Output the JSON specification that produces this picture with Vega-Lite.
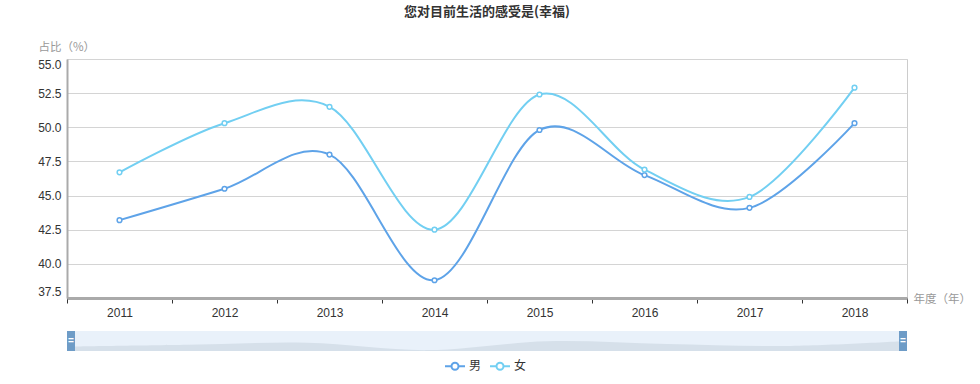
{
  "$schema": "https://vega.github.io/schema/vega-lite/v6.json",
  "padding": {"left": 37, "top": 5, "right": 5, "bottom": 5},
  "background": "white",
  "title": {"text": "您对目前生活的感受是(幸福)", "fontSize": 13, "fontWeight": "bold", "color": "#333", "anchor": "middle", "frame": "group", "font": "Noto Sans CJK SC", "offset": 22},
  "datasets": {
    "d": [
      {"year": 2011, "sex": "男", "value": 43.2},
      {"year": 2012, "sex": "男", "value": 45.5},
      {"year": 2013, "sex": "男", "value": 48.0},
      {"year": 2014, "sex": "男", "value": 38.8},
      {"year": 2015, "sex": "男", "value": 49.8},
      {"year": 2016, "sex": "男", "value": 46.5},
      {"year": 2017, "sex": "男", "value": 44.1},
      {"year": 2018, "sex": "男", "value": 50.3},
      {"year": 2011, "sex": "女", "value": 46.7},
      {"year": 2012, "sex": "女", "value": 50.3},
      {"year": 2013, "sex": "女", "value": 51.5},
      {"year": 2014, "sex": "女", "value": 42.5},
      {"year": 2015, "sex": "女", "value": 52.4},
      {"year": 2016, "sex": "女", "value": 46.9},
      {"year": 2017, "sex": "女", "value": 44.9},
      {"year": 2018, "sex": "女", "value": 52.9}
    ]
  },
  "data": {"name": "d"},
  "config": {
    "font": "Liberation Sans",
    "axis": {"labelFontSize": 12, "labelColor": "#333", "titleFont": "Noto Sans CJK SC", "titleFontSize": 11.5, "titleColor": "#999", "titleFontWeight": "normal"},
    "legend": {"labelFont": "Noto Sans CJK SC", "labelFontSize": 12, "labelColor": "#333"}
  },
  "spacing": 8,
  "vconcat": [
    {
      "width": 840,
      "height": 239,
      "view": {"stroke": "#cccccc"},
      "mark": {"type": "line", "interpolate": "cardinal", "strokeWidth": 2, "point": {"filled": false, "fill": "white", "size": 22, "strokeWidth": 1.5}},
      "encoding": {
        "x": {
          "field": "year", "type": "ordinal",
          "scale": {"type": "band", "paddingInner": 0, "paddingOuter": 0},
          "axis": {
            "title": "年度（年）", "titleX": 846, "titleY": 1, "titleAlign": "left", "titleBaseline": "middle",
            "tickBand": "extent", "tickColor": "#333", "tickSize": 5, "domainColor": "#aaaaaa", "domainWidth": 3,
            "labelAngle": 0, "labelPadding": 4, "grid": false
          }
        },
        "y": {
          "field": "value", "type": "quantitative",
          "scale": {"domain": [37.5, 55], "zero": false, "nice": false},
          "axis": {
            "title": "占比（%）", "titleAngle": 0, "titleAlign": "left", "titleBaseline": "middle", "titleX": -29, "titleY": -12,
            "values": [37.5, 40, 42.5, 45, 47.5, 50, 52.5, 55], "format": ".1f", "labelFlush": true, "ticks": false,
            "domainColor": "#aaaaaa", "domainWidth": 2, "gridColor": "#d4d4d4", "labelPadding": 6
          }
        },
        "color": {
          "field": "sex", "type": "nominal",
          "scale": {"domain": ["男", "女"], "range": ["#5ea3e8", "#72cff2"]},
          "legend": {
            "title": null, "orient": "none", "direction": "horizontal", "legendX": 377, "legendY": 296,
            "symbolType": "M-1,0L-0.4,0M0.4,0L1,0M0.35,0A0.35,0.35,0,1,1,-0.35,0A0.35,0.35,0,1,1,0.35,0",
            "symbolSize": 400, "symbolStrokeWidth": 2, "labelOffset": 3, "columnPadding": 4,
            "encode": {"symbols": {"update": {"fill": {"value": "white"}}}}
          }
        }
      }
    },
    {
      "width": 840,
      "height": 20,
      "view": {"fill": "#e9f1fa", "stroke": null},
      "layer": [
        {
          "transform": [{"filter": "datum.sex === '男'"}],
          "mark": {"type": "area", "interpolate": "cardinal", "color": "#d6e0ea", "clip": true},
          "encoding": {
            "x": {"field": "year", "type": "quantitative", "scale": {"domain": [2011, 2018], "nice": false, "zero": false}, "axis": null},
            "y": {"field": "value", "type": "quantitative", "scale": {"domain": [37.7, 62.7], "zero": false, "nice": false}, "axis": null}
          }
        },
        {
          "transform": [{"filter": "datum.sex === '男' && datum.year === 2011"}],
          "mark": {"type": "rule", "strokeWidth": 8, "color": "#6e9cc7", "xOffset": 4, "strokeCap": "butt"},
          "encoding": {"x": {"field": "year", "type": "quantitative"}}
        },
        {
          "transform": [{"filter": "datum.sex === '男' && datum.year === 2018"}],
          "mark": {"type": "rule", "strokeWidth": 8, "color": "#6e9cc7", "xOffset": -4, "strokeCap": "butt"},
          "encoding": {"x": {"field": "year", "type": "quantitative"}}
        },
        {
          "transform": [{"filter": "datum.sex === '男' && datum.year === 2011"}],
          "mark": {"type": "text", "text": "=", "color": "white", "fontSize": 10, "xOffset": 4, "fontWeight": "bold"},
          "encoding": {"x": {"field": "year", "type": "quantitative"}}
        },
        {
          "transform": [{"filter": "datum.sex === '男' && datum.year === 2018"}],
          "mark": {"type": "text", "text": "=", "color": "white", "fontSize": 10, "xOffset": -4, "fontWeight": "bold"},
          "encoding": {"x": {"field": "year", "type": "quantitative"}}
        }
      ]
    }
  ]
}
